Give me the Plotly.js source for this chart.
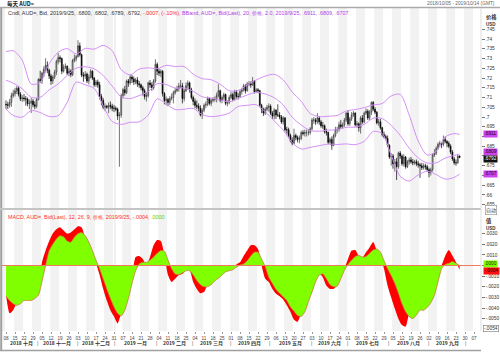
<!DOCTYPE html>
<html><head><meta charset="utf-8">
<script src="https://cdn.plot.ly/plotly-3.0.1.min.js"></script>
<style>html,body{margin:0;padding:0;background:#fff}#chart{width:500px;height:352px}</style>
</head><body><div id="chart"></div>
<script>
// ---------------- DATA (AUD= daily) ----------------
const axisStart = '2018-10-08';
const axisEnd = '2019-10-14';
const symbol = 'AUD=';
const rangeText = '2018/10/05 - 2019/10/14 (GMT)';

const openP = [
.7065,.7063,.7060,.7075,.7110, .7120,.7133,.7148,.7117,.7093, .7098,.7094,.7092,.7068,.7071, .7082,.7063,.7055,.7090,.7193,
.7187,.7225,.7245,.7265,.7240, .7210,.7185,.7205,.7230,.7285, .7305,.7300,.7235,.7255,.7260, .7225,.7235,.7218,.7290,.7300,
.7310,.7365,.7320,.7215,.7210, .7220,.7185,.7205,.7235,.7200, .7165,.7180,.7165,.7105,.7085, .7050,.7055,.7050,.7060,.7055,
.7045,.7045,.7040,.7005,.7010, .7110,.7140,.7125,.7185,.7175, .7205,.7195,.7180,.7190,.7170, .7165,.7150,.7135,.7105,.7110,
.7175,.7165,.7150,.7185,.7270, .7235,.7225,.7235,.7120,.7085, .7090,.7075,.7095,.7100,.7125, .7135,.7145,.7160,.7160,.7095,
.7135,.7160,.7175,.7140,.7100, .7080,.7060,.7055,.7045,.7010, .7035,.7060,.7065,.7095,.7070, .7085,.7090,.7090,.7110,.7135,
.7085,.7100,.7115,.7070,.7075, .7100,.7115,.7090,.7130,.7105, .7105,.7130,.7140,.7160,.7135, .7170,.7170,.7165,.7185,.7130,
.7140,.7135,.7060,.7040,.7020, .7040,.7050,.7055,.7020,.7005, .7035,.7010,.7010,.7000,.6975, .6995,.6935,.6935,.6905,.6880,
.6865,.6905,.6895,.6885,.6890, .6920,.6915,.6920,.6920,.6920, .6940,.6985,.6985,.6975,.6995, .6975,.6955,.6955,.6925,.6920,
.6870,.6885,.6855,.6905,.6935, .6935,.6960,.6950,.6960,.6985, .7020,.6965,.6990,.7010,.7020, .6960,.6965,.6945,.6995,.6975,
.7020,.7030,.6995,.7025,.7075, .7040,.7025,.6970,.6975,.6945, .6910,.6900,.6890,.6855,.6795, .6800,.6760,.6770,.6745,.6815,
.6800,.6760,.6795,.6745,.6770, .6780,.6770,.6765,.6770,.6760, .6755,.6750,.6740,.6750,.6745, .6730,.6715,.6730,.6805,.6815,
.6840,.6860,.6865,.6860,.6885, .6875,.6865,.6850,.6820,.6785, .6765,.6765,.6800];
const highP = [
.7085,.7078,.7092,.7125,.7140, .7148,.7158,.7157,.7128,.7112, .7118,.7108,.7100,.7090,.7098, .7092,.7080,.7098,.7200,.7237,
.7232,.7260,.7302,.7285,.7248, .7222,.7215,.7242,.7295,.7328, .7316,.7305,.7270,.7275,.7265, .7250,.7245,.7298,.7320,.7318,
.7394,.7382,.7325,.7230,.7236, .7228,.7218,.7245,.7240,.7205, .7190,.7192,.7180,.7118,.7098, .7070,.7062,.7075,.7080,.7068,
.7062,.7055,.7048,.7025,.7120, .7150,.7160,.7192,.7195,.7218, .7215,.7208,.7200,.7205,.7185, .7172,.7160,.7145,.7125,.7182,
.7190,.7178,.7195,.7296,.7280, .7248,.7245,.7240,.7128,.7105, .7098,.7108,.7120,.7135,.7150, .7160,.7175,.7190,.7175,.7145,
.7178,.7188,.7182,.7150,.7110, .7095,.7085,.7070,.7060,.7045, .7070,.7080,.7105,.7100,.7095, .7102,.7105,.7125,.7168,.7140,
.7110,.7125,.7120,.7085,.7112, .7128,.7125,.7140,.7138,.7122, .7142,.7150,.7170,.7168,.7180, .7185,.7182,.7205,.7190,.7148,
.7148,.7140,.7068,.7048,.7050, .7062,.7070,.7065,.7030,.7045, .7040,.7065,.7025,.7010,.7005, .7000,.6950,.6945,.6915,.6895,
.6940,.6915,.6905,.6905,.6930, .6932,.6935,.6935,.6938,.6948, .6995,.7000,.6995,.7020,.7005, .6985,.6975,.6962,.6940,.6925,
.6895,.6900,.6915,.6950,.6950, .6975,.6985,.6972,.6995,.7025, .7035,.7000,.7025,.7030,.7025, .6980,.6972,.7005,.7010,.7028,
.7045,.7040,.7035,.7080,.7082, .7050,.7030,.6990,.6990,.6950, .6925,.6910,.6905,.6860,.6815, .6810,.6785,.6790,.6822,.6825,
.6808,.6810,.6800,.6780,.6792, .6795,.6785,.6780,.6782,.6775, .6765,.6765,.6762,.6760,.6755, .6740,.6740,.6812,.6835,.6850,
.6870,.6878,.6870,.6905,.6900, .6880,.6875,.6860,.6830,.6795, .6782,.6810,.6802];
const lowP = [
.7042,.7041,.7048,.7052,.7098, .7105,.7118,.7105,.7082,.7078, .7080,.7058,.7055,.7040,.7020, .7050,.7040,.7045,.7085,.7175,
.7170,.7205,.7230,.7225,.7195, .7165,.7170,.7195,.7215,.7270, .7280,.7220,.7228,.7245,.7215, .7210,.7205,.7210,.7280,.7285,
.7305,.7310,.7205,.7180,.7195, .7175,.7168,.7198,.7190,.7155, .7155,.7150,.7090,.7060,.7040, .7030,.7042,.7020,.7040,.7030,
.7025,.7030,.6985,.6745,.6995, .7095,.7110,.7118,.7155,.7165, .7175,.7165,.7168,.7155,.7150, .7138,.7110,.7090,.7080,.7100,
.7150,.7135,.7140,.7175,.7215, .7210,.7205,.7105,.7065,.7060, .7055,.7062,.7085,.7070,.7115, .7128,.7130,.7148,.7070,.7080,
.7128,.7140,.7125,.7090,.7060, .7045,.7040,.7030,.7003,.6990, .7025,.7045,.7055,.7060,.7055, .7075,.7078,.7075,.7100,.7075,
.7070,.7088,.7060,.7055,.7065, .7092,.7080,.7085,.7095,.7090, .7098,.7115,.7130,.7120,.7130, .7158,.7150,.7160,.7120,.7125,
.7122,.7050,.7020,.7005,.7010, .7030,.7028,.7010,.6990,.6988, .6990,.7000,.6988,.6965,.6960, .6925,.6915,.6895,.6870,.6855,
.6860,.6880,.6870,.6865,.6880, .6905,.6900,.6900,.6905,.6910, .6930,.6965,.6960,.6965,.6960, .6945,.6940,.6915,.6905,.6860,
.6858,.6832,.6850,.6895,.6915, .6925,.6940,.6940,.6950,.6975, .6955,.6955,.6980,.7000,.6950, .6945,.6925,.6915,.6965,.6968,
.7010,.6985,.6985,.7010,.7030, .7015,.6962,.6955,.6935,.6900, .6890,.6880,.6845,.6785,.6750, .6735,.6720,.6677,.6735,.6785,
.6750,.6745,.6735,.6738,.6755, .6760,.6752,.6755,.6748,.6740, .6688,.6728,.6730,.6730,.6720, .6690,.6700,.6720,.6795,.6805,
.6832,.6845,.6840,.6850,.6865, .6845,.6840,.6810,.6775,.6755, .6750,.6760,.6789];
const closeP = [
.7063,.7060,.7075,.7110,.7120, .7133,.7148,.7117,.7093,.7098, .7094,.7092,.7068,.7071,.7082, .7063,.7055,.7090,.7193,.7187,
.7225,.7245,.7265,.7240,.7210, .7185,.7205,.7230,.7285,.7305, .7300,.7235,.7255,.7260,.7225, .7235,.7218,.7290,.7300,.7310,
.7365,.7320,.7215,.7210,.7220, .7185,.7205,.7235,.7200,.7165, .7180,.7165,.7105,.7085,.7050, .7055,.7050,.7060,.7055,.7045,
.7045,.7040,.7005,.7010,.7110, .7140,.7125,.7185,.7175,.7205, .7195,.7180,.7190,.7170,.7165, .7150,.7135,.7105,.7110,.7175,
.7165,.7150,.7185,.7270,.7235, .7225,.7235,.7120,.7085,.7090, .7075,.7095,.7100,.7125,.7135, .7145,.7160,.7160,.7095,.7135,
.7160,.7175,.7140,.7100,.7080, .7060,.7055,.7045,.7010,.7035, .7060,.7065,.7095,.7070,.7085, .7090,.7090,.7110,.7135,.7085,
.7100,.7115,.7070,.7075,.7100, .7115,.7090,.7130,.7105,.7105, .7130,.7140,.7160,.7135,.7170, .7170,.7165,.7185,.7130,.7140,
.7135,.7060,.7040,.7020,.7040, .7050,.7055,.7020,.7005,.7035, .7010,.7010,.7000,.6975,.6995, .6935,.6935,.6905,.6880,.6865,
.6905,.6895,.6885,.6890,.6920, .6915,.6920,.6920,.6920,.6940, .6985,.6985,.6975,.6995,.6975, .6955,.6955,.6925,.6920,.6870,
.6885,.6855,.6905,.6935,.6935, .6960,.6950,.6960,.6985,.7020, .6965,.6990,.7010,.7020,.6960, .6965,.6945,.6995,.6975,.7020,
.7030,.6995,.7025,.7075,.7040, .7025,.6970,.6975,.6945,.6910, .6900,.6890,.6855,.6795,.6800, .6760,.6770,.6745,.6815,.6800,
.6760,.6795,.6745,.6770,.6780, .6770,.6765,.6770,.6760,.6755, .6750,.6740,.6750,.6745,.6730, .6715,.6730,.6805,.6815,.6840,
.6860,.6865,.6860,.6885,.6875, .6865,.6850,.6820,.6785,.6765, .6765,.6799,.6792];

// Bollinger band (20, 2.0) read at the first day, every Friday, and the last day
const bbUpper = [.7335,.7340,.7292,.7169,.7178,.7274,.7332,.7351,.7323,.7352,.7348,.7368,.7340,.7243,.7216,.7246,.7252,.7248,.7265,.7259,.7259,.7220,.7197,.7191,.7168,.7135,.7135,.7165,.7190,.7210,.7219,.7191,.7128,.7081,.7018,.7002,.7004,.7008,.7031,.7038,.7048,.7062,.7069,.7108,.7116,.7010,.6877,.6805,.6824,.6898,.6915,.6911];
const bbMiddle = [.7188,.7174,.7145,.7101,.7101,.7139,.7170,.7213,.7251,.7258,.7247,.7213,.7159,.7103,.7095,.7110,.7131,.7171,.7167,.7148,.7149,.7132,.7104,.7097,.7087,.7078,.7095,.7113,.7127,.7118,.7099,.7062,.6999,.6959,.6931,.6927,.6933,.6934,.6947,.6948,.6962,.6994,.6992,.6957,.6906,.6840,.6790,.6764,.6765,.6789,.6803,.6809];
const bbLower = [.7041,.7008,.6999,.7033,.7023,.7003,.7007,.7075,.7179,.7165,.7147,.7058,.6977,.6962,.6973,.6975,.7010,.7093,.7068,.7038,.7040,.7044,.7012,.7002,.7007,.7020,.7054,.7060,.7063,.7027,.6980,.6933,.6869,.6836,.6844,.6853,.6861,.6859,.6862,.6858,.6875,.6926,.6915,.6805,.6696,.6671,.6703,.6722,.6705,.6681,.6690,.6707];

// MACD (12, 26, 9) and signal, in thousandths, read every second trading day
const macdSampleEvery = 2;
const macdMil = [
-2.8,-4.5,-4.2,-3.5,-3.3,-3.0,-3.1,-3.0,-2.8,-2.2,
0.3,1.4,2.3,3.0,3.4,3.6,3.3,3.0,3.1,3.4,
3.7,3.6,2.6,2.0,1.2,0.2,-0.9,-2.2,-3.3,-4.2,
-4.8,-5.45,-4.5,-3.5,-2.2,-1.0,0.8,0.9,0.6,0.0,
0.8,1.9,2.4,2.3,1.0,-0.9,-1.55,-1.25,-0.9,-0.8,
-0.4,-0.45,-1.55,-2.2,-2.6,-2.5,-1.8,-1.7,-1.2,-1.0,
-0.8,-0.5,-0.35,-0.2,0.1,0.3,0.9,1.4,1.9,1.9,
1.55,0.0,-1.25,-1.55,-2.2,-2.65,-2.9,-3.2,-3.75,-4.35,
-5.1,-5.3,-4.5,-4.0,-3.0,-2.1,-1.3,-0.7,-1.1,-1.9,
-2.2,-2.2,-1.8,-0.9,-0.3,0.6,1.4,1.45,0.9,0.75,
1.25,1.7,2.2,1.4,0.9,-0.3,-1.9,-3.0,-4.05,-5.0,
-5.6,-5.75,-4.6,-4.5,-4.3,-3.9,-3.8,-3.5,-3.2,-2.0,
-0.8,0.0,0.9,1.45,0.93,0.3,-0.4];
const signalMil = [
-2.9,-3.3,-3.6,-3.75,-3.6,-3.3,-3.3,-3.3,-3.1,-2.8,
-1.5,0.0,1.4,2.0,2.5,2.8,2.7,2.3,2.2,2.65,
3.0,3.1,2.8,2.2,1.4,0.5,-0.3,-1.25,-2.2,-3.1,
-3.9,-4.5,-4.75,-4.2,-3.1,-1.7,-0.5,0.15,0.3,0.3,
0.5,0.8,1.15,1.4,1.35,0.5,-0.3,-0.8,-0.85,-0.7,
-0.5,-0.5,-0.9,-1.4,-1.8,-2.0,-2.0,-1.8,-1.45,-1.2,
-0.9,-0.6,-0.5,-0.4,-0.15,0.05,0.15,0.45,0.9,1.25,
1.25,0.6,-0.1,-1.1,-1.7,-2.25,-2.6,-2.95,-3.3,-3.9,
-4.3,-4.7,-4.8,-4.35,-3.4,-2.5,-1.55,-0.9,-0.8,-1.25,
-1.8,-2.0,-1.95,-1.25,-0.45,0.1,0.5,0.85,0.95,0.8,
0.85,1.15,1.45,1.55,1.25,0.45,-0.3,-0.95,-1.7,-2.6,
-3.6,-4.35,-4.8,-5.0,-4.65,-4.2,-4.2,-3.95,-3.5,-2.8,
-1.55,-0.3,0.1,0.2,0.37,0.2,0.0];

const monthNames = ['一月','二月','三月','四月','五月','六月','七月','八月','九月','十月','十一月','十二月'];
const priceTicks = [.745,.74,.735,.73,.725,.72,.715,.71,.705,.7,.695,.69,.685,.68,.675,.67,.665,.66,.655];
const priceTicksHidden = [.69,.68,.67];
const macdTicks = [.003,.002,.001,0,-.001,-.002,-.003,-.004,-.005];

// ---------------- BUILD ----------------
function weekdays(a, b) {
  const out = []; let t = Date.parse(a + 'T00:00:00Z'); const e = Date.parse(b + 'T00:00:00Z');
  while (t <= e) { const d = new Date(t); const w = d.getUTCDay(); if (w > 0 && w < 6) out.push(d.toISOString().slice(0, 10)); t += 864e5; }
  return out;
}
const dow = s => new Date(s + 'T00:00:00Z').getUTCDay();
const axisDays = weekdays(axisStart, axisEnd);
const nBars = closeP.length;
const barX = closeP.map((_, i) => i);
const bbX = [0].concat(axisDays.slice(0, nBars).map((d, i) => dow(d) === 5 ? i : -1).filter(i => i >= 0), [nBars - 1]);
const macdX = macdMil.map((_, j) => j * macdSampleEvery);

const W = 500, H = 352;
const px = x => x / W, py = y => 1 - y / H;
const plotL = 2, plotR = 481, mainTop = 8, mainBot = 206, subTop = 212, subBot = 331;
const pxPerDay = 1.8, firstBarPx = 6;
const xRange = [(plotL - firstBarPx) / pxPerDay, (plotR - firstBarPx) / pxPerDay];

const fLat = 'Liberation Sans, Arial, sans-serif';
const fCJK = 'Noto Sans CJK SC, Liberation Sans, sans-serif';
const bbColor = '#d48ef6';

const traces = [
  { type: 'candlestick', x: barX, open: openP, high: highP, low: lowP, close: closeP,
    xaxis: 'x', yaxis: 'y', whiskerwidth: 0, hoverinfo: 'skip', showlegend: false,
    increasing: { line: { color: '#3a3a3a', width: 0.7 }, fillcolor: '#c4c4c4' },
    decreasing: { line: { color: '#000', width: 0.7 }, fillcolor: '#000' } },
  { type: 'scatter', mode: 'lines', x: bbX, y: bbUpper, xaxis: 'x', yaxis: 'y', line: { color: bbColor, width: 1, shape: 'spline', smoothing: 0.8 }, hoverinfo: 'skip', showlegend: false },
  { type: 'scatter', mode: 'lines', x: bbX, y: bbMiddle, xaxis: 'x', yaxis: 'y', line: { color: bbColor, width: 1, shape: 'spline', smoothing: 0.8 }, hoverinfo: 'skip', showlegend: false },
  { type: 'scatter', mode: 'lines', x: bbX, y: bbLower, xaxis: 'x', yaxis: 'y', line: { color: bbColor, width: 1, shape: 'spline', smoothing: 0.8 }, hoverinfo: 'skip', showlegend: false },
  { type: 'scatter', mode: 'lines', x: macdX, y: macdMil.map(v => v / 1000), xaxis: 'x2', yaxis: 'y2', fill: 'tozeroy', fillcolor: '#ff0000', line: { width: 0, color: '#ff0000', shape: 'spline', smoothing: 0.6 }, hoverinfo: 'skip', showlegend: false },
  { type: 'scatter', mode: 'lines', x: macdX, y: signalMil.map(v => v / 1000), xaxis: 'x2', yaxis: 'y2', fill: 'tozeroy', fillcolor: '#80ff00', line: { width: 0.8, color: '#c87a3c', shape: 'spline', smoothing: 0.6 }, hoverinfo: 'skip', showlegend: false }
];

const shapes = [];
// weekly stripes (every second week shaded)
for (let k = -1; k * 5 <= axisDays.length; k++) {
  if (Math.abs(k) % 2 === 1) {
    const x0 = Math.max(k * 5 - 0.5, xRange[0]), x1 = Math.min(k * 5 + 4.5, xRange[1]);
    if (x1 > x0) shapes.push({ type: 'rect', xref: 'x', yref: 'paper', x0, x1, y0: py(subBot), y1: py(mainTop), fillcolor: '#f2f2f2', line: { width: 0 }, layer: 'below' });
  }
}
const yearIdx = axisDays.indexOf('2019-01-01') - 0.5;
shapes.push({ type: 'line', xref: 'x', yref: 'paper', x0: yearIdx, x1: yearIdx, y0: py(subBot), y1: py(mainTop), line: { color: '#e2e2e2', width: 1 }, layer: 'below' });
// MACD zero line
shapes.push({ type: 'line', xref: 'paper', yref: 'y2', x0: px(plotL), x1: px(plotR), y0: 0, y1: 0, line: { color: '#f07a5a', width: 1 } });
// frame lines
shapes.push({ type: 'line', xref: 'paper', yref: 'paper', x0: 0, x1: 1, y0: py(7.5), y1: py(7.5), line: { color: '#aaaaaa', width: 1.5 } });
shapes.push({ type: 'line', xref: 'paper', yref: 'paper', x0: px(1.2), x1: px(1.2), y0: py(7.5), y1: py(351), line: { color: '#a0a0a0', width: 2 } });
shapes.push({ type: 'line', xref: 'paper', yref: 'paper', x0: 0, x1: px(plotR), y0: py(350.5), y1: py(350.5), line: { color: '#a0a0a0', width: 1.5 } });
shapes.push({ type: 'line', xref: 'paper', yref: 'paper', x0: 0, x1: px(plotR), y0: py(209), y1: py(209), line: { color: '#c4c4c4', width: 2 } });
shapes.push({ type: 'line', xref: 'paper', yref: 'paper', x0: px(plotR), x1: px(plotR), y0: py(subBot), y1: py(mainTop), line: { color: '#dddddd', width: 1 } });

const fmtPrice = v => v.toFixed(3).replace(/0+$/, '').replace(/^0/, '');
const fmt4 = v => (v < 0 ? '-' : '') + '.' + Math.round(Math.abs(v) * 1e4).toString().padStart(4, '0');

const ann = [];
const A = o => ann.push(Object.assign({ showarrow: false }, o));
A({ text: '<b>每天 ' + symbol + '</b>', xref: 'paper', yref: 'paper', x: px(5), y: py(3.6), xanchor: 'left', yanchor: 'middle', font: { size: 5.5, family: fCJK, color: '#222' } });
A({ text: rangeText, xref: 'paper', yref: 'paper', x: px(497), y: py(3.8), xanchor: 'right', yanchor: 'middle', font: { size: 4.8, family: fLat, color: '#666' } });

const last = nBars - 1;
const chg = closeP[last] - closeP[last - 1];
const lastDate = axisDays[last].split('-').map(Number);
const dateStr = lastDate[0] + '/' + lastDate[1] + '/' + lastDate[2];
const f4 = fmt4;
const candleHdr = 'Cndl, ' + symbol + ', Bid, ' + dateStr + ', ' + [openP[last], highP[last], lowP[last], closeP[last]].map(f4).join(', ') + ', ' +
  '<span style="color:#ff2020">' + f4(chg) + ', (' + (chg / closeP[last - 1] * 100).toFixed(2).replace('0.', '.') + '%), </span>' +
  '<span style="color:#b040e8">BBand, ' + symbol + ', Bid(Last), 20, 价格, 2.0, ' + dateStr + ', ' + [bbUpper[bbUpper.length - 1], bbMiddle[bbMiddle.length - 1], bbLower[bbLower.length - 1]].map(f4).join(', ') + '</span>';
A({ text: candleHdr, xref: 'paper', yref: 'paper', x: px(6), y: py(13), xanchor: 'left', yanchor: 'middle', font: { size: 5.4, family: fLat, color: '#333' } });
const macdHdr = '<span style="color:#ff3030">MACD, ' + symbol + ', Bid(Last), 12, 26, 9, 价格, ' + dateStr + ', ' + fmt4(macdMil[macdMil.length - 1] / 1000) + ', </span>' +
  '<span style="color:#60d000">' + fmt4(signalMil[signalMil.length - 1] / 1000) + '</span>';
A({ text: macdHdr, xref: 'paper', yref: 'paper', x: px(6), y: py(216.5), xanchor: 'left', yanchor: 'middle', font: { size: 5.4, family: fLat, color: '#f33' } });

// right axis headings
A({ text: '<b>价格</b>', xref: 'paper', yref: 'paper', x: px(484), y: py(16.6), xanchor: 'left', yanchor: 'middle', font: { size: 5.3, family: fCJK, color: '#333' } });
A({ text: '<b>USD</b>', xref: 'paper', yref: 'paper', x: px(484), y: py(24.4), xanchor: 'left', yanchor: 'middle', font: { size: 4.5, family: fLat, color: '#333' } });
A({ text: '<b>值</b>', xref: 'paper', yref: 'paper', x: px(484), y: py(221.2), xanchor: 'left', yanchor: 'middle', font: { size: 5.3, family: fCJK, color: '#333' } });
A({ text: '<b>USD</b>', xref: 'paper', yref: 'paper', x: px(484), y: py(228.8), xanchor: 'left', yanchor: 'middle', font: { size: 4.5, family: fLat, color: '#333' } });
A({ text: '自动', xref: 'paper', yref: 'paper', x: px(485), y: py(210), xanchor: 'left', yanchor: 'middle', font: { size: 5, family: fCJK, color: '#444' }, bordercolor: '#888', borderwidth: 0.6, borderpad: 0.3, bgcolor: '#fff' });

// value boxes
const box = (v, yref, bg, fg, txt, ys) => A({ text: txt, xref: 'paper', yref, x: px(482.5), y: v, yshift: ys || 0, xanchor: 'left', yanchor: 'middle', font: { size: 4.8, family: fLat, color: fg }, bgcolor: bg, borderpad: 0.4 });
box(bbUpper[bbUpper.length - 1], 'y', '#cc44f0', '#1a0020', f4(bbUpper[bbUpper.length - 1]));
box(bbMiddle[bbMiddle.length - 1], 'y', '#cc44f0', '#1a0020', f4(bbMiddle[bbMiddle.length - 1]), 2.2);
box(closeP[last], 'y', '#111', '#fff', f4(closeP[last]), -1.6);
box(bbLower[bbLower.length - 1], 'y', '#cc44f0', '#1a0020', f4(bbLower[bbLower.length - 1]));
box(signalMil[signalMil.length - 1] / 1000, 'y2', '#80ff00', '#163000', fmt4(signalMil[signalMil.length - 1] / 1000), 1.8);
box(macdMil[macdMil.length - 1] / 1000, 'y2', '#ff1010', '#300', fmt4(macdMil[macdMil.length - 1] / 1000), -1.5);
A({ text: fmt4(-0.0054), xref: 'paper', yref: 'paper', x: px(482.5), y: py(328.5), xanchor: 'left', yanchor: 'middle', font: { size: 4.8, family: fLat, color: '#333' }, bgcolor: '#fff', bordercolor: '#777', borderwidth: 0.6, borderpad: 0.3 });

// month labels and separators
const months = [];
axisDays.forEach((d, i) => { const key = d.slice(0, 7); if (!months.length || months[months.length - 1].key !== key) months.push({ key, first: i, last: i }); else months[months.length - 1].last = i; });
months.forEach((m, j) => {
  const a = Math.max(m.first - 0.5, xRange[0]), b = Math.min(m.last + 0.5, xRange[1]);
  const [yy, mm] = m.key.split('-').map(Number);
  if ((b - a) * pxPerDay > 24) A({ text: '<b>' + yy + ' ' + monthNames[mm - 1] + '</b>', xref: 'x2', yref: 'paper', x: (a + b) / 2, y: py(343), xanchor: 'center', yanchor: 'middle', font: { size: 5, family: fCJK, color: '#333' } });
  if (j > 0) A({ text: '|', xref: 'x2', yref: 'paper', x: m.first - 0.5, y: py(343), xanchor: 'center', yanchor: 'middle', font: { size: 5, family: fLat, color: '#555' } });
});

const mondayIdx = axisDays.map((d, i) => dow(d) === 1 ? i : -1).filter(i => i >= 0);

const layout = {
  width: W, height: H, autosize: false, margin: { l: 0, r: 0, t: 0, b: 0 },
  paper_bgcolor: '#ffffff', plot_bgcolor: 'rgba(0,0,0,0)', showlegend: false,
  xaxis: { domain: [px(plotL), px(plotR)], range: xRange, anchor: 'y', showticklabels: false, showgrid: false, zeroline: false, ticks: '', rangeslider: { visible: false }, fixedrange: true },
  xaxis2: { domain: [px(plotL), px(plotR)], range: xRange, anchor: 'y2', showgrid: false, zeroline: false,
    tickmode: 'array', tickvals: mondayIdx, ticktext: mondayIdx.map(i => axisDays[i].slice(8, 10)),
    ticks: 'outside', ticklen: 2, tickcolor: '#999', tickfont: { size: 4.6, family: fLat, color: '#444' }, rangeslider: { visible: false } },
  yaxis: { domain: [py(mainBot), py(mainTop)], range: [0.745 - (mainBot - 29.3) / 1949, 0.745 + (29.3 - mainTop) / 1949], side: 'right', anchor: 'x',
    showgrid: false, zeroline: false, tickmode: 'array', tickvals: priceTicks,
    ticktext: priceTicks.map(v => priceTicksHidden.includes(v) ? '' : fmtPrice(v)),
    ticks: 'outside', ticklen: 2.5, tickcolor: '#777', tickfont: { size: 4.8, family: fLat, color: '#333' } },
  yaxis2: { domain: [py(subBot), py(subTop)], range: [-(subBot - 265.5) / 10630, (265.5 - subTop) / 10630], side: 'right', anchor: 'x2',
    showgrid: false, zeroline: false, tickmode: 'array', tickvals: macdTicks,
    ticktext: macdTicks.map(v => v === 0 ? '' : fmt4(v)),
    ticks: 'outside', ticklen: 2.5, tickcolor: '#777', tickfont: { size: 4.8, family: fLat, color: '#333' } },
  shapes, annotations: ann
};
Plotly.newPlot('chart', traces, layout, { staticPlot: true, displayModeBar: false });
</script></body></html>
